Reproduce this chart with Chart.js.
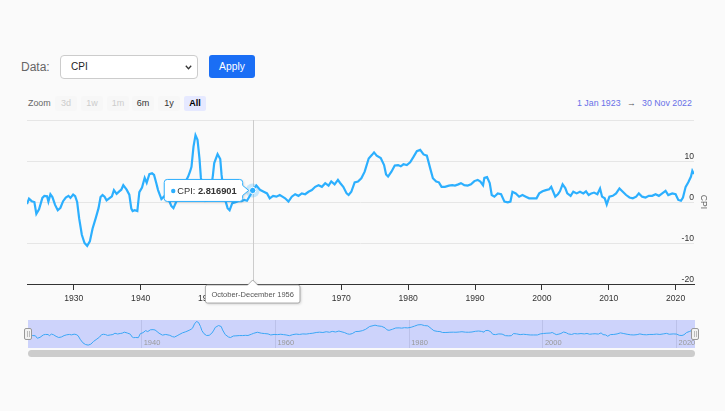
<!DOCTYPE html>
<html>
<head>
<meta charset="utf-8">
<script src="https://cdn.jsdelivr.net/npm/chart.js@4.4.1/dist/chart.umd.min.js"></script>
<style>
  html, body { margin: 0; padding: 0; background: #fafafa; }
  body { width: 725px; height: 411px; position: relative; overflow: hidden; font-family: 'Liberation Sans', Arial, sans-serif; }
  .abs { position: absolute; }
  #dataLabel { left: 21px; top: 60px; font-size: 12px; line-height: 14px; color: #666; }
  #dataSelect { left: 60px; top: 55px; width: 138px; height: 24px; box-sizing: border-box; border: 1px solid #ccc; border-radius: 4px; background: #fff; font-size: 10px; line-height: 22px; padding-left: 10px; color: #222; }
  #dataSelect svg { position: absolute; right: 5px; top: 9px; }
  #apply { left: 209px; top: 55px; width: 46px; height: 23px; background: #1a6ef5; border-radius: 3px; color: #fff; font-size: 10.3px; line-height: 23px; text-align: center; }
  #zoomLbl { left: 28px; top: 98px; font-size: 8.9px; line-height: 10px; color: #666; }
  .btn { position: absolute; top: 96px; width: 22px; height: 15px; line-height: 15px; text-align: center; font-size: 9px; border-radius: 2px; background: #f7f7f7; color: #333; }
  .btn.off { color: #ccc; }
  .btn.sel { background: #e6e9ff; color: #000; font-weight: bold; }
  .rng { position: absolute; top: 98px; font-size: 8.8px; line-height: 10px; color: #6870e8; }
  #scroll { left: 28px; top: 350px; width: 667px; height: 7px; background: #ccc; border-radius: 4px; }
</style>
</head>
<body>
<div id="dataLabel" class="abs">Data:</div>
<div id="dataSelect" class="abs">CPI<svg width="7" height="5" viewBox="0 0 7 5"><path d="M0.8 0.8 L3.5 3.7 L6.2 0.8" fill="none" stroke="#333" stroke-width="1.3"/></svg></div>
<div id="apply" class="abs">Apply</div>

<div id="zoomLbl" class="abs">Zoom</div>
<span class="btn off" style="left:55px">3d</span>
<span class="btn off" style="left:81px">1w</span>
<span class="btn off" style="left:107px">1m</span>
<span class="btn" style="left:132px">6m</span>
<span class="btn" style="left:158px">1y</span>
<span class="btn sel" style="left:184px">All</span>
<span class="rng" style="left:577px">1 Jan 1923</span>
<span class="rng" style="left:627px;color:#555">&rarr;</span>
<span class="rng" style="left:642px">30 Nov 2022</span>

<canvas id="main" class="abs" style="left:0;top:112px" width="725" height="200"></canvas>
<canvas id="nav" class="abs" style="left:0;top:316px" width="725" height="36"></canvas>
<div id="scroll" class="abs"></div>

<script>
// CPI, year-over-year % change
const years = [
  1923.0, 1923.3, 1923.7, 1924.1, 1924.4, 1924.8, 1925.3, 1925.6, 1926.0, 1926.2, 1926.5, 1926.8,
  1927.2, 1927.6, 1928.0, 1928.4, 1928.8, 1929.2, 1929.5, 1929.9, 1930.2, 1930.5, 1930.8, 1931.2,
  1931.6, 1932.0, 1932.4, 1932.8, 1933.3, 1933.7, 1934.0, 1934.3, 1934.6, 1934.9, 1935.3, 1935.7,
  1936.0, 1936.4, 1936.8, 1937.1, 1937.4, 1937.9, 1938.3, 1938.6, 1938.8, 1939.1, 1939.5, 1939.8,
  1940.2, 1940.6, 1940.9, 1941.3, 1941.7, 1942.0, 1942.3, 1942.6, 1943.1, 1943.6, 1944.2, 1944.6,
  1944.9, 1945.3, 1945.6, 1946.1, 1946.6, 1947.1, 1947.4, 1947.6, 1947.9, 1948.2, 1948.5, 1948.8,
  1949.0, 1949.3, 1949.7, 1950.1, 1950.5, 1950.8, 1951.0, 1951.5, 1951.9, 1952.1, 1952.5, 1953.0,
  1953.3, 1953.7, 1954.1, 1954.6, 1955.1, 1955.5, 1955.9, 1956.4, 1956.75, 1957.3, 1957.9, 1958.4,
  1958.9, 1959.3, 1959.8, 1960.3, 1960.8, 1961.2, 1961.6, 1962.1, 1962.6, 1963.1, 1963.6, 1964.1,
  1964.6, 1965.1, 1965.6, 1966.1, 1966.6, 1967.1, 1967.6, 1968.1, 1968.5, 1969.0, 1969.5, 1969.8,
  1970.3, 1970.8, 1971.1, 1971.5, 1972.0, 1972.5, 1973.0, 1973.5, 1974.1, 1974.6, 1974.9, 1975.3,
  1975.9, 1976.4, 1976.7, 1977.0, 1977.5, 1978.0, 1978.5, 1978.9, 1979.3, 1979.8, 1980.3, 1980.8,
  1981.3, 1981.8, 1982.3, 1982.8, 1983.3, 1983.7, 1984.2, 1984.6, 1985.0, 1985.5, 1986.1, 1986.6,
  1987.0, 1987.5, 1987.9, 1988.4, 1988.9, 1989.4, 1989.9, 1990.4, 1990.8, 1991.2, 1991.4, 1991.8,
  1992.2, 1992.5, 1992.9, 1993.4, 1993.9, 1994.4, 1994.9, 1995.3, 1995.6, 1996.1, 1996.6, 1997.1,
  1997.6, 1998.1, 1998.6, 1999.2, 1999.6, 2000.1, 2000.6, 2001.1, 2001.4, 2001.7, 2002.0, 2002.4,
  2002.7, 2003.1, 2003.5, 2003.8, 2004.3, 2004.7, 2005.2, 2005.7, 2006.2, 2006.6, 2007.0, 2007.4,
  2007.8, 2008.3, 2008.7, 2009.0, 2009.4, 2009.7, 2010.1, 2010.6, 2011.1, 2011.6, 2012.1, 2012.6,
  2013.1, 2013.6, 2014.1, 2014.5, 2015.0, 2015.5, 2016.0, 2016.5, 2017.0, 2017.5, 2018.0, 2018.5,
  2018.9, 2019.5, 2020.0, 2020.4, 2020.8, 2021.1, 2021.5, 2021.9, 2022.3, 2022.5, 2022.75
];
const cpi = [
  -0.5, 0.8, 0.2, 0.0, -2.9, -1.8, 1.0, 1.5, 1.4, 0.1, 1.9, 1.2,
  -0.7, -2.0, -1.4, 0.2, 1.1, 1.5, 1.0, 1.8, 1.4, 0.0, -4.0, -8.0,
  -10.0, -10.7, -9.6, -6.5, -3.8, -1.5, 1.2, 1.7, 1.3, 0.4, 0.9, 1.4,
  2.9, 2.0, 2.6, 3.0, 4.1, 3.0, 1.8, -1.6, -2.2, -2.0, -2.2, 2.4,
  3.5, 5.9, 4.7, 6.8, 7.0, 6.6, 4.8, 2.9, 0.7, 1.5, 0.5, -1.0,
  -1.5, 0.0, 1.3, 3.3, 4.6, 6.2, 7.5, 8.6, 13.5, 16.3, 15.2, 10.5,
  6.0, 2.5, 0.3, 0.5, 3.0, 6.5, 9.5, 11.7, 10.5, 6.6, 1.3, -1.5,
  -2.0, -0.3, -0.1, 0.2, 0.2, 0.5, 0.3, 1.7, 2.816901, 4.0, 2.9, 2.5,
  2.1, 0.9, 1.5, 1.3, 1.7, 1.3, 0.9, 0.1, 1.3, 1.9, 1.5, 2.1,
  1.9, 2.5, 2.9, 3.7, 4.1, 3.7, 4.6, 4.0, 5.0, 4.3, 5.4, 4.7,
  3.7, 2.1, 1.7, 2.5, 4.8, 5.0, 5.8, 7.4, 10.6, 11.5, 12.1, 11.3,
  10.7, 9.0, 6.7, 6.2, 7.4, 8.9, 9.0, 8.7, 9.2, 9.0, 9.7, 11.0,
  12.4, 12.7, 11.6, 11.3, 8.2, 5.8, 5.0, 4.8, 3.7, 3.7, 4.0, 4.1,
  4.0, 4.3, 4.6, 4.1, 4.0, 4.3, 5.1, 5.4, 5.0, 4.1, 5.9, 6.1,
  4.6, 1.7, 1.3, 2.1, 1.9, 0.1, -0.1, 0.1, 2.5, 2.1, 1.3, 1.7,
  1.3, 0.9, 0.9, 0.9, 2.1, 2.6, 2.9, 3.1, 3.7, 2.5, 1.3, 1.9,
  2.6, 4.3, 3.4, 2.1, 1.5, 2.5, 2.1, 2.5, 2.1, 2.6, 1.7, 2.1,
  2.3, 1.9, 3.3, 1.3, 0.9, -0.6, 1.3, 1.5, 2.1, 3.3, 2.5, 1.7,
  1.1, 0.9, 1.3, 2.1, 1.3, 1.1, 1.5, 1.5, 1.9, 1.5, 2.1, 2.7,
  1.7, 2.1, 1.9, 0.5, 0.3, 1.1, 3.7, 4.8, 6.2, 7.6, 6.8
];
const xTicks = [1930, 1940, 1950, 1960, 1970, 1980, 1990, 2000, 2010, 2020];
const yTicks = [-20, -10, 0, 10, 20];
const navTicks = [1940, 1960, 1980, 2000, 2020];
const quarterNames = ['January-March', 'April-June', 'July-September', 'October-December'];
const hoverYear = 1956.75;

const FONT = "'Liberation Sans', Arial, sans-serif";
const LINE = '#2caffe';
Chart.defaults.font.family = FONT;

const points = years.map((yr, k) => ({ x: yr, y: cpi[k] }));
const hoverIdx = years.indexOf(hoverYear);

// crosshair, hover marker and the two tooltips (Highcharts-stock look)
const hoverPlugin = {
  id: 'hover',
  beforeDatasetsDraw(chart) {
    const { ctx, chartArea, scales: { x } } = chart;
    const px = Math.round(x.getPixelForValue(years[hoverIdx])) + 0.5;
    ctx.save();
    ctx.strokeStyle = '#cccccc';
    ctx.lineWidth = 1;
    ctx.beginPath();
    ctx.moveTo(px, chartArea.top);
    ctx.lineTo(px, chartArea.bottom);
    ctx.stroke();
    ctx.restore();
  },
  afterDraw(chart) {
    const { ctx, chartArea, scales: { x, y } } = chart;
    const px = x.getPixelForValue(years[hoverIdx]);
    const py = y.getPixelForValue(cpi[hoverIdx]);
    ctx.save();
    // halo + marker
    ctx.fillStyle = 'rgba(44,175,254,0.25)';
    ctx.beginPath(); ctx.arc(px, py, 7, 0, Math.PI * 2); ctx.fill();
    ctx.fillStyle = LINE; ctx.strokeStyle = '#fff'; ctx.lineWidth = 1;
    ctx.beginPath(); ctx.arc(px, py, 3.2, 0, Math.PI * 2); ctx.fill(); ctx.stroke();

    // series tooltip
    const label = 'CPI: ';
    const val = String(cpi[hoverIdx]);
    ctx.font = '9.3px ' + FONT;
    const lw = ctx.measureText(label).width;
    ctx.font = 'bold 9.3px ' + FONT;
    const vw = ctx.measureText(val).width;
    const w = 7 + 6 + lw + vw + 6, h = 22;
    const right = px - 10, left = right - w, top = py - h / 2;
    ctx.shadowColor = 'rgba(0,0,0,0.15)';
    ctx.shadowBlur = 3; ctx.shadowOffsetX = 1; ctx.shadowOffsetY = 1;
    ctx.beginPath();
    ctx.moveTo(left + 3, top);
    ctx.lineTo(right - 3, top);
    ctx.quadraticCurveTo(right, top, right, top + 3);
    ctx.lineTo(right, py - 5);
    ctx.lineTo(right + 6, py);
    ctx.lineTo(right, py + 5);
    ctx.lineTo(right, top + h - 3);
    ctx.quadraticCurveTo(right, top + h, right - 3, top + h);
    ctx.lineTo(left + 3, top + h);
    ctx.quadraticCurveTo(left, top + h, left, top + h - 3);
    ctx.lineTo(left, top + 3);
    ctx.quadraticCurveTo(left, top, left + 3, top);
    ctx.closePath();
    ctx.fillStyle = '#ffffff';
    ctx.fill();
    ctx.shadowColor = 'transparent';
    ctx.strokeStyle = LINE; ctx.lineWidth = 1;
    ctx.stroke();
    ctx.fillStyle = LINE;
    ctx.beginPath(); ctx.arc(left + 9, py + 0.5, 2.2, 0, Math.PI * 2); ctx.fill();
    ctx.textBaseline = 'middle';
    ctx.textAlign = 'left';
    ctx.fillStyle = '#333';
    ctx.font = '9.3px ' + FONT;
    ctx.fillText(label, left + 13, py + 0.5);
    ctx.font = 'bold 9.3px ' + FONT;
    ctx.fillText(val, left + 13 + lw, py + 0.5);

    // x-axis crosshair label
    const yr = years[hoverIdx];
    const title = quarterNames[Math.round((yr % 1) * 4)] + ' ' + Math.floor(yr);
    ctx.font = '7.5px ' + FONT;
    const tw = ctx.measureText(title).width + 12;
    const th = 18;
    const bt = chartArea.bottom + 1, bl = px - tw / 2;
    ctx.shadowColor = 'rgba(0,0,0,0.2)';
    ctx.shadowBlur = 3; ctx.shadowOffsetX = 1; ctx.shadowOffsetY = 1;
    ctx.beginPath();
    ctx.moveTo(bl + 2, bt);
    ctx.lineTo(px - 5, bt);
    ctx.lineTo(px, bt - 5);
    ctx.lineTo(px + 5, bt);
    ctx.lineTo(bl + tw - 2, bt);
    ctx.quadraticCurveTo(bl + tw, bt, bl + tw, bt + 2);
    ctx.lineTo(bl + tw, bt + th - 2);
    ctx.quadraticCurveTo(bl + tw, bt + th, bl + tw - 2, bt + th);
    ctx.lineTo(bl + 2, bt + th);
    ctx.quadraticCurveTo(bl, bt + th, bl, bt + th - 2);
    ctx.lineTo(bl, bt + 2);
    ctx.quadraticCurveTo(bl, bt, bl + 2, bt);
    ctx.closePath();
    ctx.fillStyle = '#fff';
    ctx.fill();
    ctx.shadowColor = 'transparent';
    ctx.strokeStyle = '#999'; ctx.lineWidth = 0.8;
    ctx.stroke();
    ctx.fillStyle = '#555';
    ctx.textAlign = 'center';
    ctx.fillText(title, px, bt + th / 2 + 0.5);
    ctx.restore();
  }
};

new Chart(document.getElementById('main'), {
  type: 'line',
  data: {
    datasets: [{
      label: 'CPI',
      data: points,
      borderColor: LINE,
      borderWidth: 2.2,
      pointRadius: 0,
      tension: 0,
      fill: false
    }]
  },
  options: {
    responsive: false,
    animation: false,
    events: [],
    layout: { padding: { left: 27, top: 8, right: 0, bottom: 0 } },
    plugins: { legend: { display: false }, tooltip: { enabled: false } },
    scales: {
      x: {
        type: 'linear',
        min: 1923,
        max: 2022.75,
        afterFit: s => { s.height = 28; },
        afterBuildTicks: s => { s.ticks = xTicks.map(v => ({ value: v })); },
        ticks: { autoSkip: false, maxRotation: 0, padding: 3, color: '#333', font: { size: 8.6 }, callback: v => String(v) },
        grid: { drawOnChartArea: false, drawTicks: true, tickLength: 6, tickColor: '#333', color: '#333' },
        border: { display: true, color: '#333', width: 1 }
      },
      y: {
        position: 'right',
        min: -20,
        max: 20,
        afterFit: s => { s.width = 31; },
        afterBuildTicks: s => { s.ticks = yTicks.map(v => ({ value: v })); },
        ticks: { mirror: true, padding: 0, labelOffset: -4, color: '#333', font: { size: 8.6 }, callback: v => v === 20 ? '' : v },
        grid: { color: '#e6e6e6', drawTicks: false },
        border: { display: false },
        title: { display: true, text: 'CPI', color: '#666', font: { size: 8.6 }, padding: { top: 16, bottom: 0 } }
      }
    }
  },
  plugins: [hoverPlugin]
});

// navigator: mask, labels, handles
const navPlugin = {
  id: 'navDeco',
  beforeDatasetsDraw(chart) {
    const { ctx, chartArea: a } = chart;
    ctx.save();
    ctx.fillStyle = 'rgba(102,122,255,0.3)';
    ctx.fillRect(a.left, a.top, a.right - a.left, a.bottom - a.top);
    ctx.restore();
  },
  afterDraw(chart) {
    const { ctx, chartArea: a, scales: { x } } = chart;
    ctx.save();
    ctx.font = '7.5px ' + FONT;
    ctx.fillStyle = '#999';
    ctx.textAlign = 'left';
    ctx.textBaseline = 'middle';
    navTicks.forEach(v => {
      ctx.fillText(String(v), x.getPixelForValue(v) + 2, a.bottom - 5.5);
    });
    [a.left, a.right].forEach(hx => {
      const cy = (a.top + a.bottom) / 2;
      ctx.fillStyle = '#f2f2f2';
      ctx.strokeStyle = '#999';
      ctx.lineWidth = 1;
      ctx.beginPath();
      ctx.roundRect(Math.round(hx) - 3.5, cy - 5.5, 7, 11, 1.5);
      ctx.fill();
      ctx.stroke();
      ctx.strokeStyle = '#bbb';
      ctx.beginPath();
      ctx.moveTo(Math.round(hx) - 0.5, cy - 3); ctx.lineTo(Math.round(hx) - 0.5, cy + 3);
      ctx.moveTo(Math.round(hx) + 1.5, cy - 3); ctx.lineTo(Math.round(hx) + 1.5, cy + 3);
      ctx.stroke();
    });
    ctx.restore();
  }
};

new Chart(document.getElementById('nav'), {
  type: 'line',
  data: {
    datasets: [{
      data: points,
      borderColor: '#3aa6f5',
      borderWidth: 1,
      pointRadius: 0,
      tension: 0,
      fill: false
    }]
  },
  options: {
    responsive: false,
    animation: false,
    events: [],
    layout: { padding: { left: 28, right: 30, top: 4, bottom: 4 } },
    plugins: { legend: { display: false }, tooltip: { enabled: false } },
    scales: {
      x: {
        type: 'linear',
        min: 1923,
        max: 2022.75,
        afterFit: s => { s.height = 0; },
        afterBuildTicks: s => { s.ticks = navTicks.map(v => ({ value: v })); },
        ticks: { display: false },
        grid: { color: '#e0e0e0', drawTicks: false },
        border: { display: false }
      },
      y: { display: false, min: -14, max: 18 }
    }
  },
  plugins: [navPlugin]
});
</script>
</body>
</html>
